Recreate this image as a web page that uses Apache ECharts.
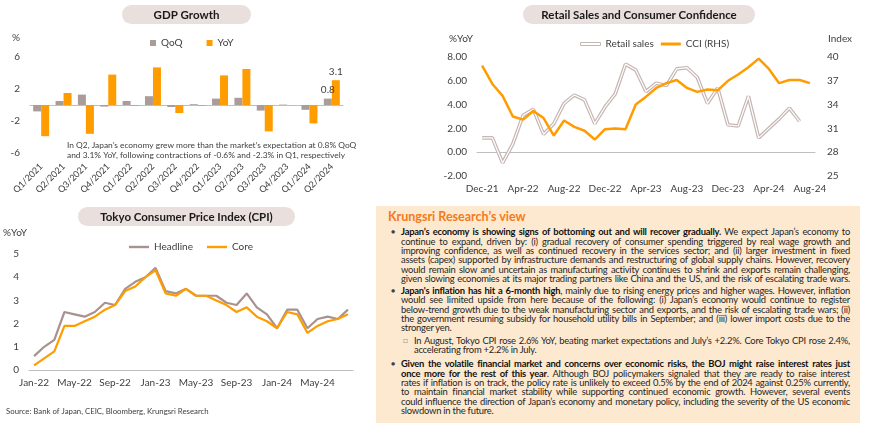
<!DOCTYPE html>
<html><head><meta charset="utf-8">
<script src="https://cdn.jsdelivr.net/npm/echarts@6/dist/echarts.min.js"></script>
<style>
html,body{margin:0;padding:0;background:#fff;}
#chart{position:absolute;left:0;top:0;width:870px;height:438px;}
#view{position:absolute;left:376px;top:206px;width:484px;height:217px;background:#fde9cf;font-family:Lato,sans-serif;color:#262626;font-size:9.4px;letter-spacing:-0.22px;}
#view .t{position:absolute;left:12px;top:3px;font-weight:bold;font-size:12.5px;color:#f47a20;letter-spacing:0;}
#view .p{position:absolute;left:25px;width:449px;}
#view .l{line-height:9.3px;text-align:justify;text-align-last:justify;}
#view .e{text-align-last:left;}
#view .b{position:absolute;left:-10px;top:0;font-size:7px;line-height:9.3px;color:#404040;}
#view .s{position:absolute;left:-11px;top:0;font-size:8px;line-height:9.3px;color:#999;}
#view b{color:#111;}
</style></head><body>
<div id="chart"></div>
<div id="view">
 <div class="t">Krungsri Research’s view</div>
 <div class="p" style="top:21.4px"><span class="b">●</span>
  <div class="l"><b>Japan’s economy is showing signs of bottoming out and will recover gradually.</b> We expect Japan’s economy to</div>
  <div class="l">continue to expand, driven by: (i) gradual recovery of consumer spending triggered by real wage growth and</div>
  <div class="l">improving confidence, as well as continued recovery in the services sector; and (ii) larger investment in fixed</div>
  <div class="l">assets (capex) supported by infrastructure demands and restructuring of global supply chains. However, recovery</div>
  <div class="l">would remain slow and uncertain as manufacturing activity continues to shrink and exports remain challenging,</div>
  <div class="l">given slowing economies at its major trading partners like China and the US, and the risk of escalating trade wars.</div>
 </div>
 <div class="p" style="top:80px"><span class="b">●</span>
  <div class="l"><b>Japan's inflation has hit a 6-month high</b>, mainly due to rising energy prices and higher wages. However, inflation</div>
  <div class="l">would see limited upside from here because of the following: (i) Japan’s economy would continue to register</div>
  <div class="l">below-trend growth due to the weak manufacturing sector and exports, and the risk of escalating trade wars; (ii)</div>
  <div class="l">the government resuming subsidy for household utility bills in September; and (iii) lower import costs due to the</div>
  <div class="l e">stronger yen.</div>
 </div>
 <div class="p" style="top:130px;left:38px;width:436px"><span class="s">□</span>
  <div class="l">In August, Tokyo CPI rose 2.6% YoY, beating market expectations and July’s +2.2%. Core Tokyo CPI rose 2.4%,</div>
  <div class="l e">accelerating from +2.2% in July.</div>
 </div>
 <div class="p" style="top:153.4px"><span class="b">●</span>
  <div class="l"><b>Given the volatile financial market and concerns over economic risks, the BOJ might raise interest rates just</b></div>
  <div class="l"><b>once more for the rest of this year</b>. Although BOJ policymakers signaled that they are ready to raise interest</div>
  <div class="l">rates if inflation is on track, the policy rate is unlikely to exceed 0.5% by the end of 2024 against 0.25% currently,</div>
  <div class="l">to maintain financial market stability while supporting continued economic growth. However, several events</div>
  <div class="l">could influence the direction of Japan’s economy and monetary policy, including the severity of the US economic</div>
  <div class="l e">slowdown in the future.</div>
 </div>
</div>
<script>
const gdpQuarters = ['Q1/2021','Q2/2021','Q3/2021','Q4/2021','Q1/2022','Q2/2022','Q3/2022','Q4/2022','Q1/2023','Q2/2023','Q3/2023','Q4/2023','Q1/2024','Q2/2024'];
const gdpQoQ = [-0.8, 0.5, 1.3, -0.2, 0.5, 1.1, -0.25, 0.1, 0.8, 0.9, -0.7, 0.05, -0.6, 0.8];
const gdpYoY = [-3.9, 1.5, -3.6, 3.8, -0.1, 4.7, -1.0, -0.1, 3.7, 4.5, -3.3, 0, -2.3, 3.1];

const rsMonths = ['Dec-21','Jan-22','Feb-22','Mar-22','Apr-22','May-22','Jun-22','Jul-22','Aug-22','Sep-22','Oct-22','Nov-22',
  'Dec-22','Jan-23','Feb-23','Mar-23','Apr-23','May-23','Jun-23','Jul-23','Aug-23','Sep-23','Oct-23','Nov-23',
  'Dec-23','Jan-24','Feb-24','Mar-24','Apr-24','May-24','Jun-24','Jul-24','Aug-24'];
const retailSales = [1.2, 1.2, -0.9, 0.7, 3.1, 3.6, 1.5, 2.4, 4.1, 4.8, 4.4, 2.4,
  3.8, 4.9, 7.4, 6.9, 5.1, 5.8, 5.6, 7.0, 7.1, 6.3, 4.1, 5.4,
  2.3, 2.2, 4.7, 1.2, 2.0, 2.8, 3.7, 2.6, null];
const cci = [38.9, 36.6, 35.1, 32.5, 32.1, 33.2, 32.3, 30.1, 32.0, 31.2, 30.7, 29.6,
  30.9, 31.0, 30.9, 34.0, 35.0, 36.1, 36.7, 37.1, 36.1, 35.6, 35.9, 35.8,
  37.0, 37.8, 38.7, 39.8, 38.5, 36.7, 37.1, 37.1, 36.7];

const cpiMonths = ['Jan-22','Feb-22','Mar-22','Apr-22','May-22','Jun-22','Jul-22','Aug-22','Sep-22','Oct-22','Nov-22','Dec-22',
  'Jan-23','Feb-23','Mar-23','Apr-23','May-23','Jun-23','Jul-23','Aug-23','Sep-23','Oct-23','Nov-23','Dec-23',
  'Jan-24','Feb-24','Mar-24','Apr-24','May-24','Jun-24','Jul-24','Aug-24'];
const cpiHeadline = [0.6, 1.0, 1.3, 2.5, 2.4, 2.3, 2.5, 2.9, 2.8, 3.5, 3.8, 4.0,
  4.4, 3.4, 3.3, 3.5, 3.2, 3.2, 3.2, 2.9, 2.8, 3.3, 2.7, 2.4,
  1.8, 2.6, 2.6, 1.8, 2.2, 2.3, 2.2, 2.6];
const cpiCore = [0.2, 0.5, 0.8, 1.9, 1.9, 2.1, 2.3, 2.6, 2.8, 3.4, 3.6, 4.0,
  4.3, 3.3, 3.2, 3.5, 3.2, 3.2, 3.0, 2.8, 2.5, 2.7, 2.3, 2.1,
  1.8, 2.5, 2.4, 1.6, 1.9, 2.1, 2.2, 2.4];

const FONT = 'Lato, sans-serif';
const TXT = '#404040';
const GREY = '#aa9c99';
const ORANGE = '#ff9c00';
const HEAD = '#a8928f';
const RS = '#c6b6b3';
const lastIdx = gdpQuarters.length - 1;
const withLastLabel = arr => arr.map((v, i) => i === lastIdx ? {value: v, label: {show: true}} : v);

const chart = echarts.init(document.getElementById('chart'), null, {renderer: 'canvas'});
const axisLbl = {color: TXT, fontSize: 10, fontFamily: FONT};
const noLine = {show: false};
const catBase = {type: 'category', axisTick: {show: false}};
const legTxt = {color: TXT, fontSize: 10, fontFamily: FONT};

function pill(x, y, w, h, text) {
  return [
    {type: 'rect', shape: {x: x, y: y, width: w, height: h, r: h / 2}, style: {fill: '#e9dfdd'}, silent: true},
    {type: 'text', style: {x: x + w / 2, y: y + h / 2 + 0.5, text: text, align: 'center', verticalAlign: 'middle',
      font: 'bold 11.5px ' + FONT, fill: '#1a1a1a'}, silent: true}
  ];
}
function txt(x, y, text, size, align) {
  return {type: 'text', style: {x: x, y: y, text: text, align: align || 'left', verticalAlign: 'middle',
    font: (size || 10) + 'px ' + FONT, fill: TXT}, silent: true};
}

const option = {
  backgroundColor: '#fff',
  textStyle: {fontFamily: FONT},
  animation: false,
  grid: [
    {left: 30, top: 57, width: 313, height: 96},
    {left: 477, top: 57, width: 338, height: 119},
    {left: 29, top: 254, width: 324, height: 116}
  ],
  legend: [
    {data: ['QoQ', 'YoY'], left: 145, top: 33, icon: 'rect', itemWidth: 6, itemHeight: 6, itemGap: 24, textStyle: legTxt},
    {data: [
        {name: 'Retail sales', icon: 'rect', itemStyle: {color: '#ffffff', borderColor: RS, borderWidth: 1}},
        {name: 'CCI (RHS)', icon: 'rect', itemStyle: {color: ORANGE, borderWidth: 0}}
      ],
      left: 575, top: 34, itemWidth: 20, itemHeight: 3, itemGap: 7, textStyle: legTxt},
    {data: [
        {name: 'Headline', icon: 'rect', itemStyle: {color: HEAD}},
        {name: 'Core', icon: 'rect', itemStyle: {color: ORANGE}}
      ],
      left: 124, top: 237, itemWidth: 20, itemHeight: 2.4, itemGap: 14, textStyle: legTxt}
  ],
  xAxis: [
    Object.assign({}, catBase, {gridIndex: 0, data: gdpQuarters, axisLine: {onZero: true, lineStyle: {color: '#bfbfbf'}}, axisLabel: {show: false}}),
    Object.assign({}, catBase, {gridIndex: 0, data: gdpQuarters, position: 'bottom', axisLine: {show: false, onZero: false},
      axisLabel: Object.assign({}, axisLbl, {rotate: 45, interval: 0, fontSize: 9, margin: 12})}),
    Object.assign({}, catBase, {gridIndex: 1, data: rsMonths, axisLine: {onZero: true, lineStyle: {color: '#bfbfbf'}}, axisLabel: {show: false}}),
    Object.assign({}, catBase, {gridIndex: 1, data: rsMonths, position: 'bottom', axisLine: {show: false, onZero: false},
      axisLabel: Object.assign({}, axisLbl, {interval: 3, margin: 8})}),
    Object.assign({}, catBase, {gridIndex: 2, data: cpiMonths, axisLine: {lineStyle: {color: '#bfbfbf'}},
      axisLabel: Object.assign({}, axisLbl, {interval: 3, margin: 8})})
  ],
  yAxis: [
    {gridIndex: 0, type: 'value', min: -6, max: 6, interval: 4, splitLine: noLine, axisLine: noLine, axisTick: noLine, axisLabel: Object.assign({}, axisLbl, {margin: 10})},
    {gridIndex: 1, type: 'value', min: -2, max: 8, interval: 2, splitLine: noLine, axisLine: noLine, axisTick: noLine,
      axisLabel: Object.assign({}, axisLbl, {margin: 10, formatter: v => v.toFixed(2)})},
    {gridIndex: 1, type: 'value', position: 'right', min: 25, max: 40, interval: 3, splitLine: noLine, axisLine: noLine, axisTick: noLine,
      axisLabel: Object.assign({}, axisLbl, {margin: 12})},
    {gridIndex: 2, type: 'value', min: 0, max: 5, interval: 1, splitLine: noLine, axisLine: noLine, axisTick: noLine, axisLabel: Object.assign({}, axisLbl, {margin: 10})}
  ],
  series: [
    {name: 'QoQ', type: 'bar', xAxisIndex: 0, yAxisIndex: 0, data: withLastLabel(gdpQoQ), barWidth: 8, barGap: '0%',
      itemStyle: {color: GREY}, label: {show: false, position: 'top', color: TXT, fontSize: 10, fontFamily: FONT, distance: 4}},
    {name: 'YoY', type: 'bar', xAxisIndex: 0, yAxisIndex: 0, data: withLastLabel(gdpYoY), barWidth: 8, barGap: '0%',
      itemStyle: {color: ORANGE}, label: {show: false, position: 'top', color: TXT, fontSize: 10, fontFamily: FONT, distance: 3}},
    {name: 'Retail sales', type: 'line', xAxisIndex: 2, yAxisIndex: 1, data: retailSales, symbol: 'none',
      lineStyle: {color: RS, width: 3.6}, itemStyle: {color: RS}},
    {name: 'Retail sales', type: 'line', xAxisIndex: 2, yAxisIndex: 1, data: retailSales, symbol: 'none',
      lineStyle: {color: '#ffffff', width: 1.2}, itemStyle: {color: RS}},
    {name: 'CCI (RHS)', type: 'line', xAxisIndex: 2, yAxisIndex: 2, data: cci, symbol: 'none',
      lineStyle: {color: ORANGE, width: 2.5}, itemStyle: {color: ORANGE}},
    {name: 'Headline', type: 'line', xAxisIndex: 4, yAxisIndex: 3, data: cpiHeadline, symbol: 'none',
      lineStyle: {color: HEAD, width: 2.2}, itemStyle: {color: HEAD}},
    {name: 'Core', type: 'line', xAxisIndex: 4, yAxisIndex: 3, data: cpiCore, symbol: 'none',
      lineStyle: {color: ORANGE, width: 2.2}, itemStyle: {color: ORANGE}}
  ],
  graphic: [].concat(
    pill(122, 5, 129, 19, 'GDP Growth'),
    pill(523, 5, 232, 19, 'Retail Sales and Consumer Confidence'),
    pill(78, 207, 217, 19, 'Tokyo Consumer Price Index (CPI)'),
    [
      txt(12, 38, '%'),
      txt(449, 39, '%YoY'),
      txt(828, 39, 'Index'),
      txt(3, 233, '%YoY'),
      txt(67, 145, 'In Q2, Japan’s economy grew more than the market’s expectation at 0.8% QoQ', 8.4),
      txt(67, 155, 'and 3.1% YoY, following contractions of -0.6% and -2.3% in Q1, respectively', 8.4),
      txt(6, 411, 'Source: Bank of Japan, CEIC, Bloomberg, Krungsri Research', 7.8)
    ]
  )
};
chart.setOption(option);
</script>
</body></html>
